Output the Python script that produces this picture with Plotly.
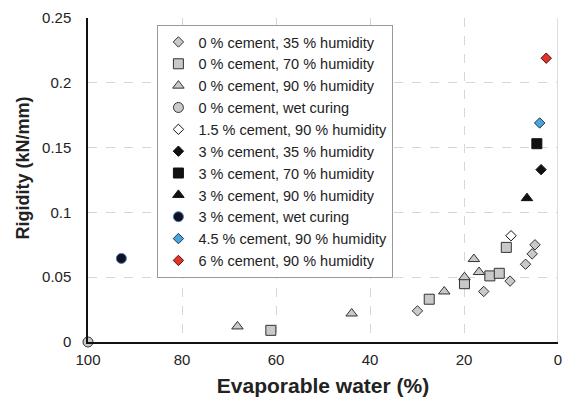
import plotly.graph_objects as go

# Evaporable water content (%) and rigidity (kN/mm) per curing condition
c0_h35_water = [29.9, 15.8, 10.2, 6.9, 5.5, 4.9]
c0_h35_rigid = [0.024, 0.039, 0.047, 0.060, 0.068, 0.075]

c0_h70_water = [61.1, 27.4, 19.9, 14.5, 12.5, 11.0]
c0_h70_rigid = [0.009, 0.033, 0.045, 0.051, 0.053, 0.073]

c0_h90_water = [68.2, 43.9, 24.2, 19.9, 17.9, 16.8]
c0_h90_rigid = [0.012, 0.022, 0.039, 0.050, 0.064, 0.054]

c0_wet_water = [100.0]
c0_wet_rigid = [0.0]

c15_h90_water = [10.0]
c15_h90_rigid = [0.082]

c3_h35_water = [3.6]
c3_h35_rigid = [0.133]

c3_h70_water = [4.5]
c3_h70_rigid = [0.153]

c3_h90_water = [6.6]
c3_h90_rigid = [0.111]

c3_wet_water = [92.9]
c3_wet_rigid = [0.0645]

c45_h90_water = [3.9]
c45_h90_rigid = [0.169]

c6_h90_water = [2.5]
c6_h90_rigid = [0.219]

series_names = [
    "0 % cement, 35 % humidity",
    "0 % cement, 70 % humidity",
    "0 % cement, 90 % humidity",
    "0 % cement, wet curing",
    "1.5 % cement, 90 % humidity",
    "3 % cement, 35 % humidity",
    "3 % cement, 70 % humidity",
    "3 % cement, 90 % humidity",
    "3 % cement, wet curing",
    "4.5 % cement, 90 % humidity",
    "6 % cement, 90 % humidity",
]

x_ticks = [100, 80, 60, 40, 20, 0]
y_ticks = [0, 0.05, 0.1, 0.15, 0.2, 0.25]
y_tick_text = ["0", "0.05", "0.1", "0.15", "0.2", "0.25"]

GRAY = "#c9c9c9"
EDGE = "#333333"

styles = [
    dict(symbol="diamond", size=8, color=GRAY, line=dict(color=EDGE, width=1)),
    dict(symbol="square", size=10, color=GRAY, line=dict(color=EDGE, width=1)),
    dict(symbol="triangle-up", size=10, color=GRAY, line=dict(color=EDGE, width=1)),
    dict(symbol="circle", size=10, color=GRAY, line=dict(color=EDGE, width=1)),
    dict(symbol="diamond", size=8, color="white", line=dict(color="#111111", width=1)),
    dict(symbol="diamond", size=8, color="#111111", line=dict(color="#111111", width=1)),
    dict(symbol="square", size=10, color="#111111", line=dict(color="#111111", width=1)),
    dict(symbol="triangle-up", size=10, color="#111111", line=dict(color="#111111", width=1)),
    dict(symbol="circle", size=10, color="#111122", line=dict(color="#4a78b8", width=1)),
    dict(symbol="diamond", size=8, color="#4aa6da", line=dict(color="#1a3350", width=1)),
    dict(symbol="diamond", size=8, color="#e2332b", line=dict(color="#4a1010", width=1)),
]

data = [
    (c0_h35_water, c0_h35_rigid),
    (c0_h70_water, c0_h70_rigid),
    (c0_h90_water, c0_h90_rigid),
    (c0_wet_water, c0_wet_rigid),
    (c15_h90_water, c15_h90_rigid),
    (c3_h35_water, c3_h35_rigid),
    (c3_h70_water, c3_h70_rigid),
    (c3_h90_water, c3_h90_rigid),
    (c3_wet_water, c3_wet_rigid),
    (c45_h90_water, c45_h90_rigid),
    (c6_h90_water, c6_h90_rigid),
]

fig = go.Figure()
for name, (xs, ys), st in zip(series_names, data, styles):
    fig.add_trace(go.Scatter(
        x=xs, y=ys, mode="markers", name=name,
        marker=st, cliponaxis=False,
    ))

FONT = "Liberation Sans, Arial, Helvetica, sans-serif"

fig.update_layout(
    width=565, height=399,
    margin=dict(l=88, r=3, t=18, b=57),
    paper_bgcolor="white", plot_bgcolor="white",
    font=dict(family=FONT, color="#222222", size=14),
    showlegend=True,
    legend=dict(
        x=(158 - 88) / 474, y=1 - (25 - 18) / 324,
        xanchor="left", yanchor="top",
        bgcolor="white", bordercolor="#999999", borderwidth=1,
        font=dict(family=FONT, size=14.5, color="#222222"),
        tracegroupgap=0,
    ),
    xaxis=dict(
        range=[100, 0], autorange=False,
        tickmode="array", tickvals=x_ticks, ticktext=[str(v) for v in x_ticks],
        showgrid=True, gridcolor="#d6d6d6", griddash="dash", gridwidth=1,
        showline=True, linecolor="#111111", linewidth=1.5,
        zeroline=False, ticks="outside", ticklen=3, tickcolor="rgba(0,0,0,0)",
        ticklabeloverflow="allow",
        tickfont=dict(size=15),
        title=dict(text="<b>Evaporable water (%)</b>", font=dict(size=21, color="#222222"), standoff=12),
    ),
    yaxis=dict(
        range=[0, 0.25], autorange=False,
        tickmode="array", tickvals=y_ticks, ticktext=y_tick_text,
        showgrid=True, gridcolor="#d6d6d6", griddash="dash", gridwidth=1,
        showline=True, linecolor="#111111", linewidth=1.5,
        zeroline=False, ticks="outside", ticklen=12, tickcolor="rgba(0,0,0,0)",
        tickfont=dict(size=15),
    ),
    annotations=[dict(
        text="<b>Rigidity (kN/mm)</b>", textangle=-90,
        xref="paper", yref="paper",
        x=(22 - 88) / 474, y=1 - (168 - 18) / 324,
        xanchor="center", yanchor="middle", showarrow=False,
        font=dict(size=18, color="#222222", family=FONT),
    )],
    shapes=[dict(
        type="line", xref="x", yref="y", x0=0, x1=0, y0=0, y1=0.25,
        line=dict(color="#bbbbbb", width=1), layer="below",
    )],
)

fig.write_html("out.html")
